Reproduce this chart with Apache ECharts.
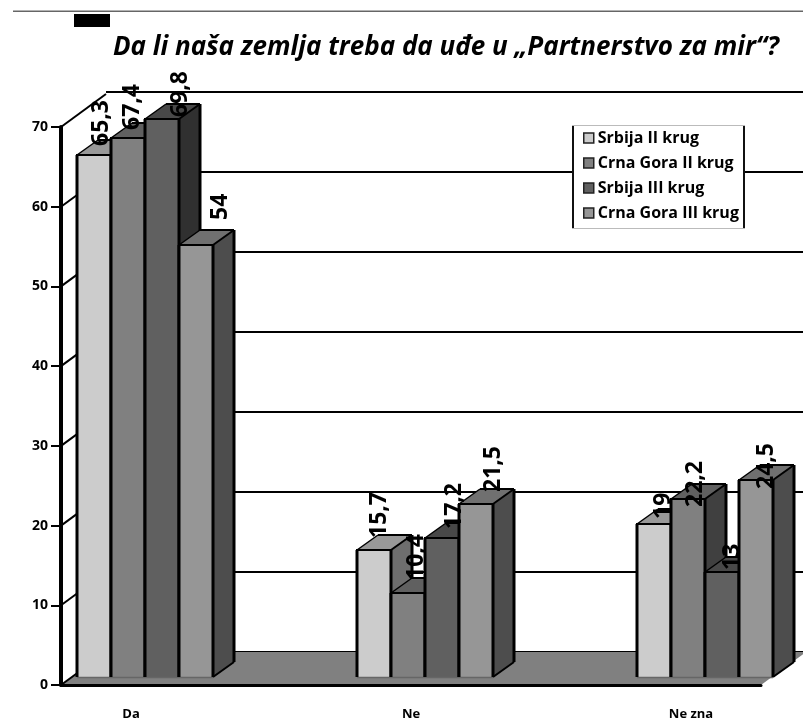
<!DOCTYPE html>
<html><head><meta charset="utf-8">
<style>html,body{margin:0;padding:0;background:#fff}#c{width:803px;height:726px}</style>
<script src="https://cdn.jsdelivr.net/npm/echarts@6/dist/echarts.min.js"></script>
</head><body><div id="c"></div>
<script>
const titleText = 'Da li naša zemlja treba da uđe u „Partnerstvo za mir“?';
const categories = ['Da', '', 'Ne', '', 'Ne zna'];
const seriesNames = ['Srbija II krug', 'Crna Gora II krug', 'Srbija III krug', 'Crna Gora III krug'];
const srbija2 = [65.3, null, 15.7, null, 19];
const crnaGora2 = [67.4, null, 10.4, null, 22.2];
const srbija3 = [69.8, null, 17.2, null, 13];
const crnaGora3 = [54, null, 21.5, null, 24.5];
const yTicks = [0, 10, 20, 30, 40, 50, 60, 70];

// styling, kept apart from the values
const FONT = '"Open Sans", "Noto Sans", sans-serif';
const faces = [
  { front: '#cccccc', top: '#999999', side: '#6e6e6e' },
  { front: '#808080', top: '#606060', side: '#404040' },
  { front: '#606060', top: '#484848', side: '#303030' },
  { front: '#969696', top: '#707070', side: '#4d4d4d' }
];
// per-label placement [dx from bar centre, gap above bar top, in px], by series then category
const labelNudge = [
  { 0: [7, 9], 2: [5, 12], 4: [9, 5] },
  { 0: [4, 8], 2: [8, 13], 4: [7, -8] },
  { 0: [18, 2], 2: [12, 9], 4: [10, 2] },
  { 0: [24, 25], 2: [17, 12], 4: [10, -9] }
];
const BAR_W = 34, DX = 21, DY = -15, OFF_X = 13.5, OFF_TOP = -9.5, OFF_BASE = -8;
const WALL_X = 45, WALL_Y = -33;

const values = [srbija2, crnaGora2, srbija3, crnaGora3];

function poly(points, fill, z2) {
  return { type: 'polygon', shape: { points }, style: { fill, stroke: null }, z2 };
}
function seg(x1, y1, x2, y2, w, z2, color) {
  return { type: 'line', shape: { x1, y1, x2, y2 }, style: { stroke: color || '#000', lineWidth: w }, z2 };
}

function barRenderer(si) {
  return function (params, api) {
    const cat = api.value(0), val = api.value(1);
    const base = api.coord([cat, 0]);
    const topPt = api.coord([cat, val]);
    const x0 = Math.round(base[0] + OFF_X - 2 * BAR_W + si * BAR_W);
    const x1 = x0 + BAR_W;
    const yb = base[1] + OFF_BASE;
    const yt = Math.round(topPt[1] + OFF_TOP);
    const c = faces[si];
    const zf = 10 + si * 4, zs = zf - 2, zl = zf + 1;
    const kids = [
      poly([[x1, yb], [x1 + DX, yb + DY], [x1 + DX, yt + DY], [x1, yt]], c.side, zs),
      poly([[x0, yt], [x1, yt], [x1 + DX, yt + DY], [x0 + DX, yt + DY]], c.top, zs),
      seg(x0, yt, x0 + DX, yt + DY, 1.5, zs + 1),
      seg(x1, yt, x1 + DX, yt + DY, 2, zs + 1),
      seg(x0 + DX, yt + DY, x1 + DX, yt + DY, 2, zs + 1),
      seg(x1 + DX, yt + DY, x1 + DX, yb + DY, 3, zs + 1),
      seg(x1, yb, x1 + DX, yb + DY, 2, zs + 1),
      poly([[x0, yb], [x1, yb], [x1, yt], [x0, yt]], c.front, zf),
      seg(x0, yb + 0.5, x1, yb + 0.5, 1.5, zl, '#666'),
      seg(x0, yb, x0, yt, 3, zl),
      seg(x1, yb, x1, yt, 3, zl),
      seg(x0 - 1, yt, x1 + 1, yt, 2, zl)
    ];
    const nudge = labelNudge[si][cat];
    kids.push({
      type: 'text', x: (x0 + x1) / 2 + nudge[0], y: yt - nudge[1], rotation: Math.PI / 2, z2: 100,
      style: {
        text: String(val).replace('.', ','), align: 'left', verticalAlign: 'middle',
        font: 'bold 23px ' + FONT, fill: '#000'
      }
    });
    return { type: 'group', children: kids };
  };
}

const barSeries = seriesNames.map((name, si) => ({
  name, type: 'custom', xAxisIndex: 0, yAxisIndex: 0, clip: false, z: 3,
  itemStyle: { color: faces[si].front },
  renderItem: barRenderer(si),
  encode: { x: 0, y: 1 },
  data: values[si].map((v, i) => [i, v]).filter(d => d[1] !== null)
}));

const floorSeries = {
  type: 'custom', xAxisIndex: 0, yAxisIndex: 0, clip: false, z: 1, silent: true,
  renderItem(params, api) {
    const cs = params.coordSys;
    const xl = cs.x, xr = cs.x + cs.width;
    const y0 = api.coord([0, 0])[1];
    return {
      type: 'polygon',
      shape: { points: [[xl, y0], [xr, y0], [xr + WALL_X, y0 + WALL_Y], [xl + WALL_X, y0 + WALL_Y]] },
      style: { fill: '#808080', stroke: null }
    };
  },
  encode: { y: 1 },
  data: [[0, 0]]
};

const diagonalSeries = {
  type: 'custom', xAxisIndex: 0, yAxisIndex: 0, clip: false, z: 2, silent: true,
  renderItem(params, api) {
    const cs = params.coordSys;
    const y = api.coord([0, api.value(1)])[1];
    return {
      type: 'line',
      shape: { x1: cs.x, y1: y, x2: cs.x + WALL_X, y2: y + WALL_Y },
      style: { stroke: '#000', lineWidth: 2 }
    };
  },
  encode: { y: 1 },
  data: yTicks.map(t => [0, t])
};

const wallSeries = {
  // carries the rear y scale so its split lines are drawn
  type: 'custom', xAxisIndex: 1, yAxisIndex: 1, silent: true, z: 0,
  renderItem() { return null; },
  data: []
};

const chart = echarts.init(document.getElementById('c'), null, { renderer: 'canvas' });
chart.setOption({
  animation: false,
  backgroundColor: '#fff',
  title: {
    text: titleText, left: 113, top: 35, padding: 0,
    textStyle: { fontFamily: FONT, fontSize: 26, fontWeight: 'bold', fontStyle: 'italic', color: '#000' }
  },
  legend: {
    data: seriesNames.map(name => ({ name, icon: 'rect' })),
    orient: 'vertical', left: 572, top: 125,
    padding: [5, 4, 10, 11], itemWidth: 10, itemHeight: 10, itemGap: 9,
    z: 10, selectedMode: false,
    itemStyle: { borderColor: '#222', borderWidth: 1.5 },
    textStyle: { fontFamily: FONT, fontSize: 16, fontWeight: 'bold', color: '#000', padding: [0, 0, 0, -1] }
  },
  grid: [
    { left: 61, top: 127, width: 700, height: 558 },
    { left: 106, top: 92, width: 720, height: 560 }
  ],
  xAxis: [
    {
      gridIndex: 0, type: 'category', data: categories, z: 5,
      axisLine: { lineStyle: { color: '#000', width: 3 } },
      axisTick: { alignWithLabel: false, interval: 0, length: 9, lineStyle: { color: '#000', width: 2 } },
      axisLabel: { interval: 0, margin: 23, fontFamily: FONT, fontSize: 13, fontWeight: 'bold', color: '#000' }
    },
    { gridIndex: 1, type: 'value', min: 0, max: 1, show: false }
  ],
  yAxis: [
    {
      gridIndex: 0, type: 'value', min: 0, max: 70, interval: 10, z: 5,
      axisLine: { show: true, lineStyle: { color: '#000', width: 4 } },
      axisTick: { show: true, length: 10, lineStyle: { color: '#000', width: 2 } },
      axisLabel: { margin: 13, fontFamily: FONT, fontSize: 14, fontWeight: 'bold', color: '#000' },
      splitLine: { show: false }
    },
    {
      gridIndex: 1, type: 'value', min: 0, max: 70, interval: 10,
      axisLine: { show: false }, axisTick: { show: false }, axisLabel: { show: false },
      splitLine: { show: true, lineStyle: { color: '#000', width: 2 } }
    }
  ],
  graphic: [
    { type: 'rect', shape: { x: 13, y: 10.5, width: 790, height: 1.5 }, style: { fill: '#666' }, z: 20 },
    { type: 'rect', shape: { x: 74, y: 14, width: 36, height: 13 }, style: { fill: '#000' }, z: 20 },
    { type: 'rect', shape: { x: 572, y: 125, width: 173, height: 104 }, style: { fill: '#fff' }, z: 4 },
    { type: 'rect', shape: { x: 572, y: 125, width: 2, height: 104 }, style: { fill: '#111' }, z: 20 },
    { type: 'rect', shape: { x: 743, y: 125, width: 2, height: 104 }, style: { fill: '#111' }, z: 20 },
    { type: 'rect', shape: { x: 572, y: 125, width: 173, height: 1 }, style: { fill: '#bbb' }, z: 20 },
    { type: 'rect', shape: { x: 572, y: 228, width: 173, height: 1 }, style: { fill: '#bbb' }, z: 20 }
  ],
  series: [wallSeries, floorSeries, diagonalSeries].concat(barSeries)
});
</script></body></html>
